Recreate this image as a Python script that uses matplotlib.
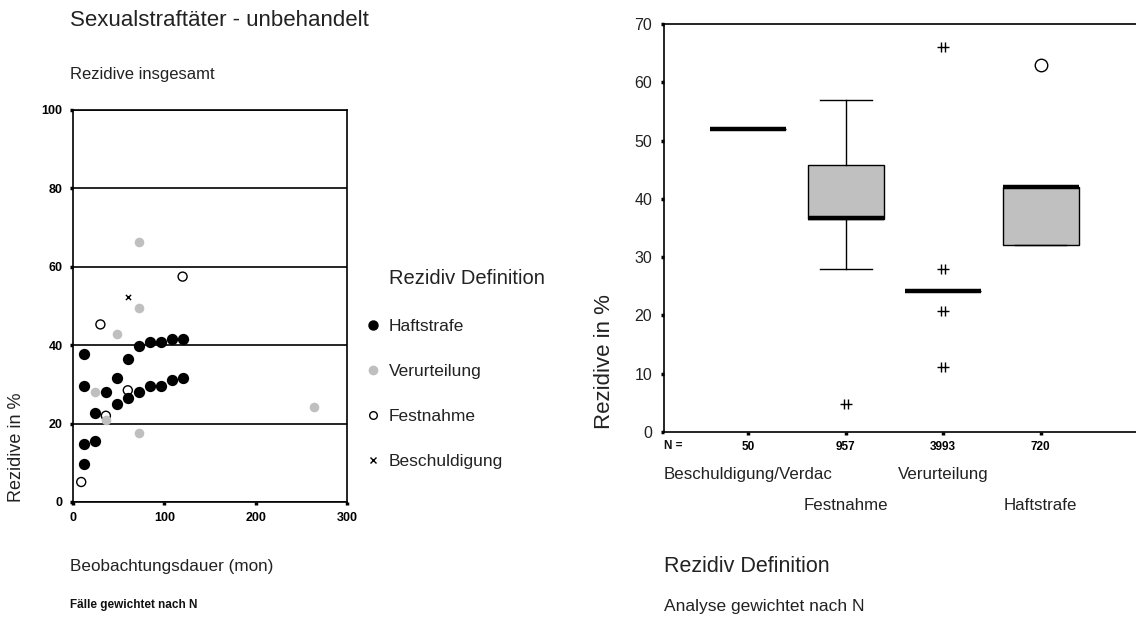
import matplotlib
matplotlib.use("Agg")
import matplotlib.pyplot as plt
from matplotlib.path import Path
from matplotlib.lines import Line2D
import matplotlib.transforms as mtransforms

# ---------------- data ----------------
# Left panel: recidivism (%) by follow-up duration (months), per definition
haft_x = [12, 12, 12, 12, 24, 24, 36, 48, 48, 60, 60, 72, 72, 84, 84, 96, 96, 108, 108, 120, 120]
haft_y = [37.7, 29.7, 14.8, 9.7, 22.8, 15.6, 28.0, 31.6, 24.9, 36.5, 26.6, 39.8, 28.0,
          40.7, 29.7, 40.7, 29.7, 41.5, 31.0, 41.5, 31.6]
verurt_x = [24, 36, 48, 72, 72, 72, 264]
verurt_y = [28.0, 20.8, 42.8, 66.2, 49.6, 17.7, 24.3]
festn_x = [9, 30, 36, 60, 120]
festn_y = [5.1, 45.3, 22.0, 28.5, 57.5]
besch_x = [60]
besch_y = [52.4]

legend_labels = ["Haftstrafe", "Verurteilung", "Festnahme", "Beschuldigung"]
left_xticks = [0, 100, 200, 300]
left_yticks = [0, 20, 40, 60, 80, 100]

# Right panel: box summaries per definition
box_names = ["Beschuldigung/Verdac", "Festnahme", "Verurteilung", "Haftstrafe"]
box_n = ["50", "957", "3993", "720"]
box_q1 = [52.0, 36.6, 24.2, 32.0]
box_med = [52.0, 36.7, 24.2, 42.0]
box_q3 = [52.0, 45.8, 24.2, 42.0]
box_lo = [52.0, 28.0, 24.2, 32.0]
box_hi = [52.0, 57.0, 24.2, 42.0]
outlier_pos = [4]
outlier_val = [63.0]
extreme_pos = [2, 3, 3, 3, 3]
extreme_val = [4.8, 66.0, 27.9, 20.8, 11.1]
right_yticks = [0, 10, 20, 30, 40, 50, 60, 70]

# ---------------- figure ----------------
W, H = 1136, 619
fig = plt.figure(figsize=(W / 100, H / 100), dpi=100)
fig.patch.set_facecolor("white")

SANS = ["Liberation Sans", "DejaVu Sans"]
NARROW = ["Liberation Sans Narrow", "Liberation Sans", "DejaVu Sans"]
GRAY = "#bfbfbf"


def fx(px):
    return px / W


def fy(py):
    return 1 - py / H


# ---------- left scatter ----------
axL = fig.add_axes([fx(73), fy(502), fx(347) - fx(73), fy(110) - fy(502)])
axL.set_xlim(0, 300)
axL.set_ylim(0, 100)
axL.grid(axis="y", color="black", lw=1.2)
axL.set_axisbelow(True)
for s in axL.spines.values():
    s.set_color("black")
    s.set_linewidth(1.2)

axL.scatter(festn_x, festn_y, s=42, facecolors="none", edgecolors="black", linewidths=1.0, zorder=3)
axL.scatter(besch_x, besch_y, s=14, marker="x", color="black", linewidths=1.0, zorder=3)
axL.scatter(verurt_x, verurt_y, s=48, color=GRAY, linewidths=0, zorder=4)
axL.scatter(haft_x, haft_y, s=66, color="black", linewidths=0, zorder=5)

axL.set_xticks(left_xticks)
axL.set_yticks(left_yticks)
axL.set_xticklabels([str(v) for v in left_xticks], family=NARROW, fontweight="bold", fontsize=9)
axL.set_yticklabels([str(v) for v in left_yticks], family=NARROW, fontweight="bold", fontsize=9)
axL.tick_params(direction="out", length=2.5, width=2.5, color="black", pad=5)

fig.text(fx(17), fy(447), "Rezidive in %", rotation=90, ha="center", va="center",
         family=SANS, fontsize=13, color="#222222")

# legend for the left panel
fig.text(fx(389), fy(278), "Rezidiv Definition", ha="left", va="center",
         family=SANS, fontsize=14.5, color="#222222")
handles = [
    Line2D([], [], ls="none", marker="o", ms=6.5, mfc="black", mec="black"),
    Line2D([], [], ls="none", marker="o", ms=6, mfc=GRAY, mec=GRAY),
    Line2D([], [], ls="none", marker="o", ms=5.5, mfc="none", mec="black", mew=1.0),
    Line2D([], [], ls="none", marker="x", ms=4, color="black", mew=1.0),
]
fig.legend(handles, legend_labels, loc="upper left", bbox_to_anchor=(fx(366), fy(319)),
           frameon=False, prop={"family": SANS, "size": 12.5}, labelspacing=1.71,
           handlelength=0.8, handletextpad=0.5, borderpad=0, borderaxespad=0,
           labelcolor="#222222")

fig.text(fx(70), fy(20), "Sexualstraftäter - unbehandelt", ha="left", va="center",
         family=SANS, fontsize=16, color="#222222")
fig.text(fx(70), fy(75), "Rezidive insgesamt", ha="left", va="center",
         family=SANS, fontsize=12, color="#222222")
fig.text(fx(70), fy(567), "Beobachtungsdauer (mon)", ha="left", va="center",
         family=SANS, fontsize=12.3, color="#222222")
fig.text(fx(70), fy(605), "Fälle gewichtet nach N", ha="left", va="center",
         family=NARROW, fontweight="bold", fontsize=8.5, color="#111111")

# ---------- right box plot ----------
axR = fig.add_axes([fx(664), fy(432), 1 - fx(664), fy(24) - fy(432)])
positions = [1, 2, 3, 4]
stats = []
for name, q1, med, q3, lo, hi in zip(box_names, box_q1, box_med, box_q3, box_lo, box_hi):
    stats.append({"label": name, "q1": q1, "med": med, "q3": q3,
                  "whislo": lo, "whishi": hi, "fliers": []})
axR.bxp(stats, positions=positions, widths=0.78, capwidths=0.53, patch_artist=True,
        showfliers=False,
        boxprops={"facecolor": "#c0c0c0", "edgecolor": "black", "linewidth": 1.0},
        medianprops={"color": "black", "linewidth": 3.2, "solid_capstyle": "butt"},
        whiskerprops={"color": "black", "linewidth": 1.0},
        capprops={"color": "black", "linewidth": 1.0})

star = Path([(-1, 0), (1, 0), (-0.3, -0.9), (-0.3, 0.9), (0.3, -0.9), (0.3, 0.9)],
            [Path.MOVETO, Path.LINETO, Path.MOVETO, Path.LINETO, Path.MOVETO, Path.LINETO])
axR.plot(extreme_pos, extreme_val, ls="none", marker=star, ms=8, mew=1.0, color="black", zorder=5)
axR.plot(outlier_pos, outlier_val, ls="none", marker="o", ms=9, mfc="white", mec="black",
         mew=1.0, zorder=5)

axR.set_xlim(0.135, 4.98)
axR.set_ylim(0, 70)
axR.spines["right"].set_visible(False)
for k in ["left", "top", "bottom"]:
    axR.spines[k].set_color("black")
    axR.spines[k].set_linewidth(1.2)
axR.set_yticks(right_yticks)
axR.set_yticklabels([str(v) for v in right_yticks], family=SANS, fontsize=11.5, color="#222222")
axR.set_xticks(positions)
axR.set_xticklabels(box_n, family=NARROW, fontweight="bold", fontsize=8.5)
axR.tick_params(axis="y", direction="out", length=2.5, width=2.5, color="black", pad=6)
axR.tick_params(axis="x", direction="out", length=2.5, width=2.5, color="black", pad=4)

fig.text(fx(664), fy(446), "N =", ha="left", va="center",
         family=NARROW, fontweight="bold", fontsize=8.5, color="#111111")

trans = mtransforms.blended_transform_factory(axR.transData, fig.transFigure)
label_rows = [474, 505, 474, 505]
for pos, name, row in zip(positions, box_names, label_rows):
    axR.text(pos, fy(row), name, transform=trans, ha="center", va="center",
             family=SANS, fontsize=12.2, color="#222222", clip_on=False)

fig.text(fx(605), fy(362), "Rezidive in %", rotation=90, ha="center", va="center",
         family=SANS, fontsize=16, color="#222222")
fig.text(fx(664), fy(566), "Rezidiv Definition", ha="left", va="center",
         family=SANS, fontsize=15.5, color="#222222")
fig.text(fx(664), fy(606), "Analyse gewichtet nach N", ha="left", va="center",
         family=SANS, fontsize=12.5, color="#222222")

fig.savefig("out.png", dpi=100, facecolor="white")
